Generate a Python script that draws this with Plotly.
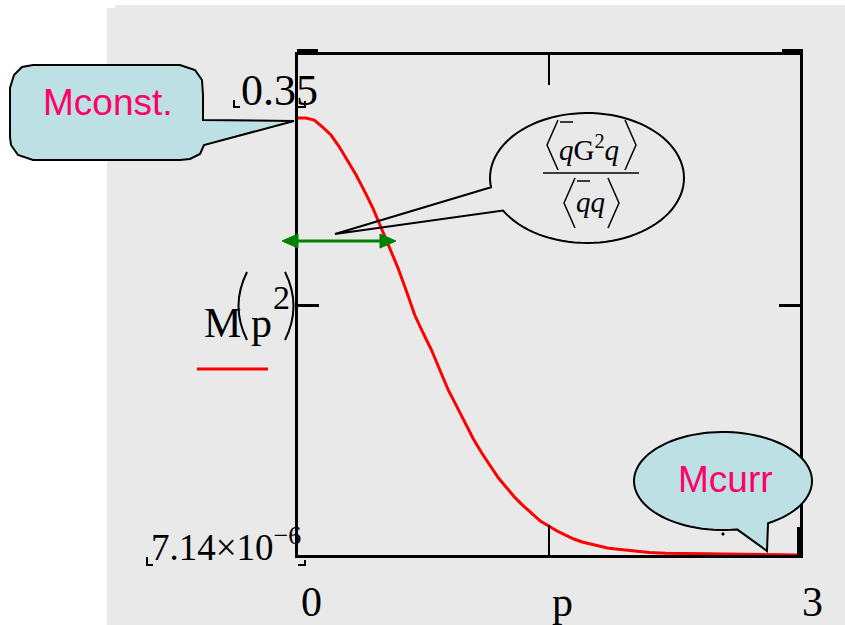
import math
import plotly.graph_objects as go

# M(p^2) sampled along p
p_vals = [0.00, 0.05, 0.10, 0.15, 0.20, 0.25, 0.30, 0.35, 0.40, 0.45,
          0.50, 0.55, 0.60, 0.65, 0.70, 0.75, 0.80, 0.85, 0.90, 0.95,
          1.00, 1.05, 1.10, 1.15, 1.20, 1.25, 1.30, 1.35, 1.40, 1.45,
          1.50, 1.55, 1.60, 1.65, 1.70, 1.75, 1.80, 1.85, 1.90, 1.95,
          2.00, 2.05, 2.10, 2.20, 2.40, 2.60, 2.80, 3.00]
m_vals = [0.3500, 0.3500, 0.3484, 0.3428, 0.3364, 0.3268, 0.3156, 0.3044, 0.2915, 0.2779,
          0.2619, 0.2459, 0.2299, 0.2114, 0.1922, 0.1778, 0.1642, 0.1482, 0.1322, 0.1193,
          0.1065, 0.0929, 0.0817, 0.0721, 0.0617, 0.0537, 0.0457, 0.0392, 0.0328, 0.0272,
          0.0232, 0.0192, 0.0160, 0.0128, 0.0104, 0.0088, 0.0072, 0.0056, 0.0048, 0.0040,
          0.0032, 0.0024, 0.0020, 0.0014, 0.0010, 0.0006, 0.0003, 7.14e-6]

x_range = [0, 3]
y_range = [7.14e-6, 0.4005]
x_tick_vals = [1.5]
y_tick_vals = [(y_range[0] + y_range[1]) / 2]

y_top_label = "0.35"
y_bottom_label = "7.14×10<sup>−6</sup>"
x_left_label, x_mid_label, x_right_label = "0", "p", "3"

W, H = 845, 625
SERIF = "Liberation Serif, Times New Roman, serif"
SANS = "Liberation Sans, Arial, sans-serif"
PINK = "#ff0066"
CYAN = "#bde0e4"
BG = "#e9e9e9"


def px(x, y):
    """pixel position -> paper coordinates"""
    return x / W, 1 - y / H


def pt(x, y):
    u, v = px(x, y)
    return f"{u:.5f},{v:.5f}"


def path_of(points, close=True):
    parts = [("M" if i == 0 else "L") + pt(x, y) for i, (x, y) in enumerate(points)]
    return " ".join(parts) + (" Z" if close else "")


def ellipse_arc(cx, cy, rx, ry, t0, t1, n=90):
    pts = []
    for i in range(n + 1):
        t = math.radians(t0 + (t1 - t0) * i / n)
        pts.append((cx + rx * math.cos(t), cy + ry * math.sin(t)))
    return pts


shapes = []
annotations = []


def add_line(x0, y0, x1, y1, color="black", width=2):
    u0, v0 = px(x0, y0)
    u1, v1 = px(x1, y1)
    shapes.append(dict(type="line", xref="paper", yref="paper", x0=u0, y0=v0,
                       x1=u1, y1=v1, line=dict(color=color, width=width)))


def add_raw_path(d, fill="rgba(0,0,0,0)", color="black", width=2):
    shapes.append(dict(type="path", xref="paper", yref="paper", path=d,
                       fillcolor=fill, line=dict(color=color, width=width)))


def add_path(points, fill="rgba(0,0,0,0)", color="black", width=2, close=True):
    add_raw_path(path_of(points, close), fill=fill, color=color, width=width)


def add_text(x, y, s, size, family=SERIF, color="black", xanchor="left"):
    u, v = px(x, y)
    annotations.append(dict(x=u, y=v, xref="paper", yref="paper", text=s, showarrow=False,
                            xanchor=xanchor, yanchor="middle",
                            font=dict(size=size, family=family, color=color)))


# worksheet background
shapes.append(dict(type="rect", xref="paper", yref="paper", layer="below",
                   x0=px(107, 0)[0], x1=1, y0=0, y1=px(0, 8)[1],
                   fillcolor=BG, line=dict(width=0)))
shapes.append(dict(type="rect", xref="paper", yref="paper", layer="below",
                   x0=px(115, 0)[0], x1=1, y0=0, y1=px(0, 5)[1],
                   fillcolor=BG, line=dict(width=0)))

# axis-limit markers at the frame corners
add_line(297, 51, 318, 51, width=4)
add_line(782, 51, 803, 51, width=4)
add_line(799, 527, 799, 555, width=4)
add_path([(234, 100), (234, 107), (240, 107)], close=False, width=2)
add_path([(298, 107), (305, 107), (305, 101)], close=False, width=2)
add_path([(147, 557), (147, 565), (153, 565)], close=False, width=2)
add_path([(298, 565), (305, 565), (305, 560)], close=False, width=2)

# axis limit labels
add_text(239, 91, y_top_label, 44)
add_text(303, 544, y_bottom_label, 37, xanchor="right")
add_text(311, 602, x_left_label, 42, xanchor="center")
add_text(562, 602, x_mid_label, 42, xanchor="center")
add_text(812, 602, x_right_label, 42, xanchor="center")

# y-axis expression M(p^2) with its legend line
add_text(202, 323, "M", 42)
add_text(249, 323, "p", 42)
add_text(271, 297, "2", 34)
add_raw_path(f"M{pt(247, 272)} Q{pt(230, 306)} {pt(247, 340)}", width=2)
add_raw_path(f"M{pt(285, 272)} Q{pt(302, 306)} {pt(285, 340)}", width=2)
add_line(197, 369, 268, 369, color="red", width=3)

# "Mconst." callout
add_path([(33, 65), (180, 65), (195, 70), (202, 80), (203, 95), (203, 120), (294, 121),
          (204, 145), (200, 154), (190, 159), (180, 160), (33, 160), (18, 155), (11, 145),
          (10, 137), (10, 88), (14, 75), (22, 67)], fill=CYAN, width=2)
add_text(41, 102, "Mconst.", 37, family=SANS, color=PINK)

# "Mcurr" callout
mcurr = ellipse_arc(723, 481, 89, 49, 80.9, 419.6) + [(767, 551)]
add_path(mcurr, fill=CYAN, width=2)
add_text(676, 479, "Mcurr", 37, family=SANS, color=PINK)
add_path([(722, 533), (724, 533), (724, 535), (722, 535)], fill="black", width=1)

# formula callout
formula = ellipse_arc(587, 178, 97, 65, 171.8, 510.0) + [(335, 234)]
add_path(formula, width=2)

# <qbar G^2 q> / <qbar q>
add_path([(558, 120), (547, 145), (558, 170)], close=False, width=1.5)
add_path([(625, 120), (636, 145), (625, 170)], close=False, width=1.5)
add_line(560, 122, 573, 122, width=1.5)
add_text(557, 148, "<i>q</i>G<sup>2</sup><i>q</i>", 29)
add_line(543, 173, 639, 173, width=1.5)
add_path([(575, 178), (564, 203), (575, 228)], close=False, width=1.5)
add_path([(608, 178), (619, 203), (608, 228)], close=False, width=1.5)
add_line(577, 181, 590, 181, width=1.5)
add_text(574, 202, "<i>qq</i>", 29)

# green double arrow
GREEN = "#008000"
add_line(292, 241, 386, 241, color=GREEN, width=3)
add_path([(282, 241), (298, 234), (298, 248)], fill=GREEN, color=GREEN, width=1)
add_path([(396, 241), (380, 234), (380, 248)], fill=GREEN, color=GREEN, width=1)

fig = go.Figure(go.Scatter(x=p_vals, y=m_vals, mode="lines",
                           line=dict(color="red", width=3), hoverinfo="skip"))

axis_style = dict(showgrid=False, zeroline=False, showline=True, linecolor="black",
                  linewidth=3, mirror="ticks", ticks="inside", tickcolor="black",
                  showticklabels=False, fixedrange=True)

fig.update_layout(
    width=W, height=H, autosize=False,
    margin=dict(l=0, r=0, t=0, b=0, pad=0),
    paper_bgcolor="white", plot_bgcolor="rgba(0,0,0,0)",
    showlegend=False,
    xaxis=dict(range=x_range, domain=[297.5 / W, 800 / W], tickvals=x_tick_vals,
               ticklen=30, tickwidth=2, **axis_style),
    yaxis=dict(range=y_range, domain=[1 - 555 / H, 1 - 55 / H], tickvals=y_tick_vals,
               ticklen=21, tickwidth=3, **axis_style),
    shapes=shapes,
    annotations=annotations,
)

fig.write_html("out.html")
